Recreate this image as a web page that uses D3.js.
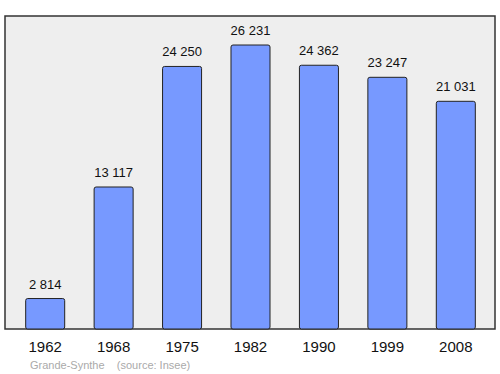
<!DOCTYPE html>
<html>
<head>
<meta charset="utf-8">
<script src="https://cdn.jsdelivr.net/npm/d3@7"></script>
<style>
  body { margin: 0; background: #fff; }
  svg { display: block; font-family: "Liberation Sans", Arial, sans-serif; }
</style>
</head>
<body>
<svg id="viz" width="500" height="374"></svg>
<script>
// population figures (Grande-Synthe)
const years = ["1962", "1968", "1975", "1982", "1990", "1999", "2008"];
const population = [2814, 13117, 24250, 26231, 24362, 23247, 21031];
const labels = ["2 814", "13 117", "24 250", "26 231", "24 362", "23 247", "21 031"];

window.onload = () => {
  const svg = d3.select("#viz");

  // plot frame
  const left = 5, right = 495, top = 16, bottom = 329;

  svg.append("rect")
    .attr("x", left).attr("y", top)
    .attr("width", right - left).attr("height", bottom - top)
    .attr("fill", "#eeeeee")
    .attr("stroke", "#333")
    .attr("stroke-width", 1.5);

  const x = d3.scaleBand()
    .domain(years)
    .range([12, 489])
    .paddingInner(0.43)
    .paddingOuter(0.2);

  const y = d3.scaleLinear()
    .domain([0, 28910])
    .range([bottom, top]);

  const data = years.map((yr, i) => ({ year: yr, value: population[i], label: labels[i] }));

  svg.append("g")
    .selectAll("rect")
    .data(data)
    .join("rect")
    .attr("x", d => x(d.year))
    .attr("y", d => y(d.value))
    .attr("width", x.bandwidth())
    .attr("height", d => bottom - y(d.value))
    .attr("rx", 2)
    .attr("fill", "#7799ff")
    .attr("stroke", "#222")
    .attr("stroke-width", 1);

  // value labels above bars
  svg.append("g")
    .selectAll("text")
    .data(data)
    .join("text")
    .attr("x", d => x(d.year) + x.bandwidth() / 2)
    .attr("y", d => y(d.value) - 10)
    .attr("text-anchor", "middle")
    .attr("font-size", 13)
    .attr("fill", "#111")
    .text(d => d.label);

  // year labels
  svg.append("g")
    .selectAll("text")
    .data(data)
    .join("text")
    .attr("x", d => x(d.year) + x.bandwidth() / 2)
    .attr("y", 352)
    .attr("text-anchor", "middle")
    .attr("font-size", 15)
    .attr("fill", "#111")
    .text(d => d.year);

  svg.append("text")
    .attr("x", 30)
    .attr("y", 369)
    .attr("font-size", 11)
    .attr("fill", "#aaa")
    .attr("xml:space", "preserve")
    .style("white-space", "pre")
    .text("Grande-Synthe    (source: Insee)");
};
</script>
</body>
</html>
